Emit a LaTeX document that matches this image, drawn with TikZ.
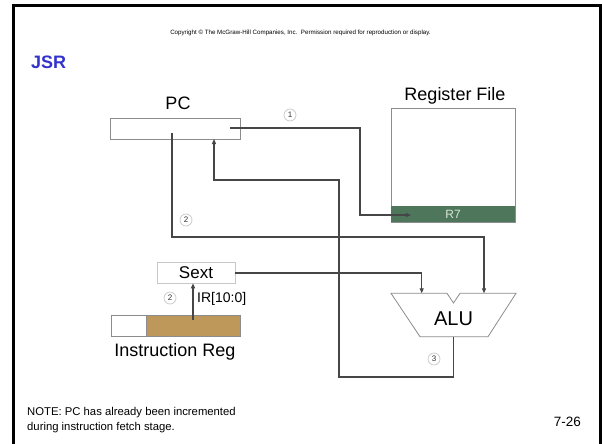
\documentclass[tikz,border=0pt]{standalone}
\usepackage{fontspec}
\setmainfont{Liberation Sans}
\usetikzlibrary{arrows.meta}
\definecolor{jsrblue}{RGB}{51,51,204}
\definecolor{wire}{RGB}{70,70,70}
\definecolor{boxgray}{RGB}{140,140,140}
\definecolor{lightgray2}{RGB}{200,200,200}
\definecolor{r7green}{RGB}{78,118,90}
\definecolor{r7text}{RGB}{215,230,215}
\definecolor{irtan}{RGB}{190,152,90}
\tikzset{
  wirel/.style={draw=wire, line width=1.1pt},
  arr/.style={wirel, -{Triangle[length=5pt,width=4pt]}},
  lbl/.style={font=\fontsize{18}{20}\selectfont, inner sep=0pt},
  num/.style={circle, draw=lightgray2, line width=0.7pt, minimum size=12pt, inner sep=0pt, font=\fontsize{8}{9}\selectfont, text=black!80},
}
\begin{document}
\begin{tikzpicture}[x=1pt,y=-1pt]
\useasboundingbox (0,0) rectangle (602,444);
\fill[white] (0,0) rectangle (602,444);
% frame
\draw[line width=2.6pt] (13.5,444) -- (13.5,5.8) -- (600.5,5.8) -- (600.5,444);
% header
\node[inner sep=0pt, font=\fontsize{6.2}{7}\selectfont] (copy) at (300.5,33) {Copyright \textcopyright{} The McGraw-Hill Companies, Inc.\ \ Permission required for reproduction or display.};
\node[anchor=west, inner sep=0pt, text=jsrblue, font=\fontsize{18}{20}\bfseries\selectfont] (jsr) at (31,62) {JSR};
% PC
\node[draw=boxgray, line width=0.8pt, minimum width=130pt, minimum height=21pt, inner sep=0pt] (pc) at (175,128.5) {};
\node[lbl] (pclbl) at (178,103) {PC};
% Register file
\node[draw=boxgray, line width=0.8pt, minimum width=124pt, minimum height=114pt, inner sep=0pt] (rf) at (453,165) {};
\node[fill=r7green, minimum width=124pt, minimum height=16pt, inner sep=0pt, text=r7text, font=\fontsize{12}{13}\selectfont] (r7) at (453,214) {R7};
\node[lbl] (rflbl) at (455,96) {Register File};
% Sext
\node[draw=lightgray2, line width=0.8pt, minimum width=78pt, minimum height=20.5pt, inner sep=0pt, font=\fontsize{17}{18}\selectfont] (sext) at (196,273) {Sext};
% Instruction register
\node[draw=boxgray, line width=0.6pt, fill=white, minimum width=35pt, minimum height=21pt, inner sep=0pt] (irw) at (128.5,325.5) {};
\node[draw=boxgray, line width=0.6pt, fill=irtan, minimum width=94pt, minimum height=21pt, inner sep=0pt] (irt) at (193,325.5) {};
\node[lbl] (irlbl) at (175,352) {Instruction Reg};
\node[anchor=west, inner sep=0pt, font=\fontsize{14}{15}\selectfont] (irf) at (197,299) {IR[10:0]};
% ALU
\draw[draw=boxgray, line width=0.8pt, fill=white] (391,293.3) -- (447,293.3) -- (453.5,303) -- (460,293.3) -- (516,293.3) -- (488,336.7) -- (420,336.7) -- cycle;
\node[inner sep=0pt, font=\fontsize{20}{22}\selectfont] (alu) at (453.5,319) {ALU};
% coordinates
\coordinate (p1s) at (230,128);
\coordinate (c1) at (360,215);
\coordinate (r7in) at (411,215);
\coordinate (p2s) at (172,133);
\coordinate (c2) at (484,237);
\coordinate (aluR) at (484,293.3);
\coordinate (aluL) at (421.7,293.3);
\coordinate (aluOut) at (453.5,336.7);
\coordinate (c3) at (339,377);
\coordinate (c4) at (214,180);
\coordinate (pcin) at (214,139);
\coordinate (irs) at (193,320);
\coordinate (sextin) at (193,283.3);
% connectors
\draw[arr] (p1s) -| (c1) -- (r7in);
\draw[arr] (p2s) |- (c2) -- (aluR);
\draw[arr] (sext.east) -| (aluL);
\draw[arr] (aluOut) |- (c3) |- (c4) -- (pcin);
\draw[arr] (irs) -- (sextin);
% step numbers
\node[num, fill=white] (n1) at (290,115) {1};
\node[num, fill=white] (n2a) at (186,220) {2};
\node[num, fill=white] (n2b) at (170,298) {2};
\node[num, fill=white] (n3) at (434,359) {3};
% notes
\node[anchor=north west, align=left, inner sep=0pt, font=\fontsize{11.3}{15}\selectfont] (note) at (27,407) {NOTE: PC has already been incremented\\during instruction fetch stage.};
\node[anchor=east, inner sep=0pt, font=\fontsize{13.5}{15}\selectfont] (pg) at (581,422) {7-26};
\end{tikzpicture}
\end{document}
